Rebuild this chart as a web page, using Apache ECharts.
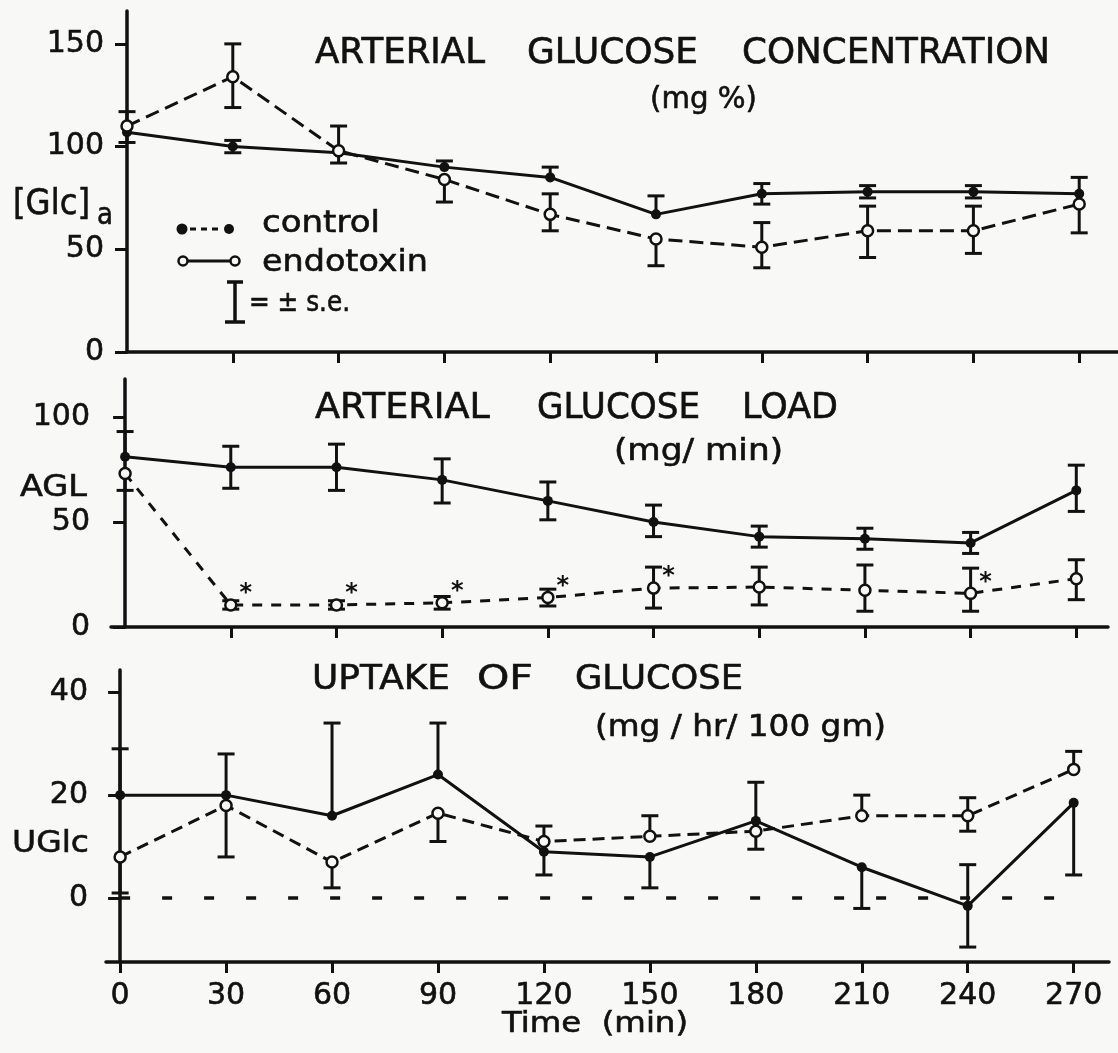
<!DOCTYPE html>
<html><head><meta charset="utf-8">
<script src="https://cdn.jsdelivr.net/npm/echarts@6/dist/echarts.min.js"></script>
<style>html,body{margin:0;padding:0;background:#f8f8f6}#c{width:1118px;height:1053px}</style>
</head><body><div id="c"></div>
<script>
// ---------- data ----------
const time = [0, 30, 60, 90, 120, 150, 180, 210, 240, 270];
const xTickLabels = ['0', '30', '60', '90', '120', '150', '180', '210', '240', '270'];

// Panel 1: arterial glucose concentration (mg %)
const glcSolid       = [107, 100, 97, 90, 85, 67, 77, 78, 78, 77];
const glcSolidUp     = [0, 3, 0, 3, 5, 9, 5, 3, 3, 0];
const glcSolidDown   = [5, 3, 5, 0, 0, 0, 5, 3, 3, 0];
const glcDashed      = [110, 134, 98, 84, 67, 55, 51, 59, 59, 72];
const glcDashedUp    = [7, 16, 12, 0, 10, 0, 12, 12, 12, 13];
const glcDashedDown  = [0, 15, 0, 11, 8, 13, 10, 13, 11, 14];
const glcTicks = [0, 50, 100, 150];

// Panel 2: arterial glucose load (mg/min)
const aglSolid       = [81, 76, 76, 70, 60, 50, 43, 42, 40, 65];
const aglSolidUp     = [12, 10, 11, 10, 9, 8, 5, 5, 5, 12];
const aglSolidDown   = [0, 10, 11, 11, 9, 7, 5, 5, 5, 10];
const aglDashed      = [73, 10.5, 10.5, 11.5, 14, 18.5, 19, 17.5, 16, 23];
const aglDashedUp    = [0, 2, 2, 3, 4, 10, 9.5, 12, 12, 9];
const aglDashedDown  = [8, 2, 2, 3, 4, 9.5, 8.5, 10, 8.5, 10];
const aglSignificant = [0, 1, 1, 1, 1, 1, 0, 0, 1, 0];
const aglTicks = [0, 50, 100];

// Panel 3: uptake of glucose (mg/hr/100 gm)
const ugSolid        = [20, 20, 16, 24, 9, 8, 15, 6, -1.5, 18.5];
const ugSolidUp      = [9, 0, 18, 10, 0, 0, 7.5, 0, 8, 0];
const ugSolidDown    = [0, 0, 0, 0, 4.5, 6, 0, 8, 8, 14];
const ugDashed       = [8, 18, 7, 16.5, 11, 12, 13, 16, 16, 25];
const ugDashedUp     = [0, 10, 0, 0, 3, 4, 0, 4, 3.5, 3.5];
const ugDashedDown   = [7, 10, 5, 5.5, 0, 0, 3.5, 0, 3, 0];
const ugTicks = [0, 20, 40];
const ugZeroLineEnd = 273;

// ---------- helpers ----------
const INK = '#111111', BG = '#f8f8f6', FONT = 'DejaVu Sans';
const mctx = document.createElement('canvas').getContext('2d');
function fitText(str, left, right, cy, fs) {
  const font = fs + 'px "' + FONT + '"';
  mctx.font = font;
  const w = mctx.measureText(str).width;
  return { type: 'text', x: left, y: cy, scaleX: (right - left) / w, z: 10,
    style: { text: str, font: font, fill: INK, stroke: INK, lineWidth: 0.6, align: 'left', verticalAlign: 'middle',
             textAlign: 'left', textVerticalAlign: 'middle' } };
}
function lineSeries(gi, vals, dashed, dash, filled, sig) {
  return {
    type: 'line', xAxisIndex: gi, yAxisIndex: gi, z: 3,
    data: time.map((t, i) => (sig && sig[i]) ? { value: [t, vals[i]], label: { show: true } } : [t, vals[i]]),
    symbol: 'circle', symbolSize: filled ? 10 : 11,
    itemStyle: filled ? { color: INK } : { color: BG, borderColor: INK, borderWidth: 2.5 },
    lineStyle: { color: INK, width: 3, type: dashed ? dash : 'solid' },
    label: { show: false, formatter: '*', position: 'right', distance: 2, offset: [0, -11],
             fontSize: 24, fontWeight: 'bold', color: INK, fontFamily: FONT },
    emphasis: { disabled: true }, silent: true
  };
}
function errSeries(gi, vals, up, down) {
  return {
    type: 'custom', xAxisIndex: gi, yAxisIndex: gi, z: 2, silent: true,
    data: time.map((t, i) => [t, vals[i], up[i], down[i]]),
    encode: { x: 0, y: 1 },
    renderItem: function (params, api) {
      const x = api.value(0), y = api.value(1), u = api.value(2), d = api.value(3);
      const c = api.coord([x, y]);
      const st = { stroke: INK, lineWidth: 3 };
      const ch = [];
      const half = 8.5;
      if (u > 0) {
        const p = api.coord([x, y + u]);
        ch.push({ type: 'line', shape: { x1: c[0], y1: c[1], x2: p[0], y2: p[1] }, style: st });
        ch.push({ type: 'line', shape: { x1: p[0] - half, y1: p[1], x2: p[0] + half, y2: p[1] }, style: st });
      }
      if (d > 0) {
        const p = api.coord([x, y - d]);
        ch.push({ type: 'line', shape: { x1: c[0], y1: c[1], x2: p[0], y2: p[1] }, style: st });
        ch.push({ type: 'line', shape: { x1: p[0] - half, y1: p[1], x2: p[0] + half, y2: p[1] }, style: st });
      }
      return { type: 'group', children: ch };
    }
  };
}
const axLine = { show: true, lineStyle: { color: INK, width: 3.5 } };
const tickStyle = { color: INK, width: 3 };
const labelBase = { fontSize: 30, fontFamily: FONT, color: INK, textBorderColor: INK, textBorderWidth: 0.6 };
function xAxis(gi, min, max, onZero, showLabels, tickVals) {
  return {
    type: 'value', gridIndex: gi, min: min, max: max,
    axisLine: Object.assign({ onZero: onZero }, axLine),
    axisTick: { show: true, inside: false, length: 11, lineStyle: tickStyle, customValues: tickVals },
    axisLabel: Object.assign({ show: showLabels, customValues: time, margin: 19,
                 formatter: v => xTickLabels[time.indexOf(v)] }, labelBase),
    splitLine: { show: false }
  };
}
function yAxis(gi, min, max, ticks, margin) {
  return {
    type: 'value', gridIndex: gi, min: min, max: max,
    axisLine: Object.assign({ onZero: true }, axLine),
    axisTick: { show: true, inside: false, length: 12, lineStyle: tickStyle, customValues: ticks },
    axisLabel: Object.assign({ show: true, customValues: ticks, margin: margin }, labelBase),
    splitLine: { show: false }
  };
}

const series = [
  errSeries(0, glcSolid, glcSolidUp, glcSolidDown),
  errSeries(0, glcDashed, glcDashedUp, glcDashedDown),
  lineSeries(0, glcSolid, false, null, true),
  lineSeries(0, glcDashed, true, [14, 7], false),
  errSeries(1, aglSolid, aglSolidUp, aglSolidDown),
  errSeries(1, aglDashed, aglDashedUp, aglDashedDown),
  lineSeries(1, aglSolid, false, null, true),
  lineSeries(1, aglDashed, true, [10, 9], false, aglSignificant),
  errSeries(2, ugSolid, ugSolidUp, ugSolidDown),
  errSeries(2, ugDashed, ugDashedUp, ugDashedDown),
  lineSeries(2, ugSolid, false, null, true),
  lineSeries(2, ugDashed, true, [12, 7], false),
  {
    type: 'line', xAxisIndex: 2, yAxisIndex: 2, data: [], silent: true,
    markLine: { silent: true, symbol: 'none', label: { show: false },
      lineStyle: { color: INK, width: 3.5, type: [10, 32] },
      data: [[{ coord: [0, 0] }, { coord: [ugZeroLineEnd, 0] }]] }
  }
];

// legend + texts
const graphics = [
  fitText('ARTERIAL', 315, 485, 54, 35),
  fitText('GLUCOSE', 527, 698, 54, 35),
  fitText('CONCENTRATION', 742, 1050, 54, 35),
  fitText('(mg %)', 650, 757, 100, 30),
  fitText('ARTERIAL', 315, 490, 409, 35),
  fitText('GLUCOSE', 537, 700, 409, 35),
  fitText('LOAD', 742, 838, 409, 35),
  fitText('(mg/ min)', 614, 783, 452, 30),
  fitText('UPTAKE', 312, 450, 680, 34),
  fitText('OF', 477, 533, 680, 34),
  fitText('GLUCOSE', 575, 743, 680, 34),
  fitText('(mg / hr/ 100 gm)', 595, 886, 728, 30),
  fitText('[Glc]', 13, 90, 205, 36),
  fitText('a', 97, 113, 216, 30),
  fitText('AGL', 20, 87, 488, 30),
  fitText('UGlc', 12, 89, 844, 30),
  fitText('Time  (min)', 502, 688, 1025, 28),
  fitText('control', 262, 380, 224, 30),
  fitText('endotoxin', 262, 428, 263, 30),
  fitText('= ± s.e.', 249, 350, 304, 28),
  // legend symbols
  { type: 'circle', shape: { cx: 182, cy: 229, r: 5.5 }, style: { fill: INK } },
  { type: 'line', shape: { x1: 190, y1: 229, x2: 223, y2: 229 }, style: { stroke: INK, lineWidth: 3, lineDash: [6, 5] } },
  { type: 'circle', shape: { cx: 229, cy: 229, r: 5 }, style: { fill: INK } },
  { type: 'circle', shape: { cx: 183, cy: 261, r: 4.5 }, style: { fill: BG, stroke: INK, lineWidth: 2.5 } },
  { type: 'line', shape: { x1: 188, y1: 261, x2: 230, y2: 261 }, style: { stroke: INK, lineWidth: 3 } },
  { type: 'circle', shape: { cx: 235, cy: 261, r: 4.5 }, style: { fill: BG, stroke: INK, lineWidth: 2.5 } },
  { type: 'line', shape: { x1: 235, y1: 282, x2: 235, y2: 322 }, style: { stroke: INK, lineWidth: 3.5 } },
  { type: 'line', shape: { x1: 227, y1: 282, x2: 243, y2: 282 }, style: { stroke: INK, lineWidth: 3.5 } },
  { type: 'line', shape: { x1: 225, y1: 322, x2: 245, y2: 322 }, style: { stroke: INK, lineWidth: 3.5 } }
];

const option = {
  backgroundColor: BG,
  animation: false,
  grid: [
    { left: 127, top: 11, width: 991, height: 341, containLabel: false, outerBoundsMode: 'none' },
    { left: 111, top: 379, width: 997, height: 248, containLabel: false, outerBoundsMode: 'none' },
    { left: 106, top: 670, width: 1003, height: 292, containLabel: false, outerBoundsMode: 'none' }
  ],
  xAxis: [
    xAxis(0, 0, 281, true, false, time.slice(1)),
    xAxis(1, -4, 279, true, false, time.slice(1)),
    xAxis(2, -4, 280, false, true, time)
  ],
  yAxis: [
    yAxis(0, 0, 166, glcTicks, 23),
    yAxis(1, 0, 118, aglTicks, 21),
    yAxis(2, -12.4, 44.3, ugTicks, 18)
  ],
  series: series,
  graphic: { elements: graphics }
};
const chart = echarts.init(document.getElementById('c'), null, { renderer: 'canvas' });
chart.setOption(option);
</script></body></html>
